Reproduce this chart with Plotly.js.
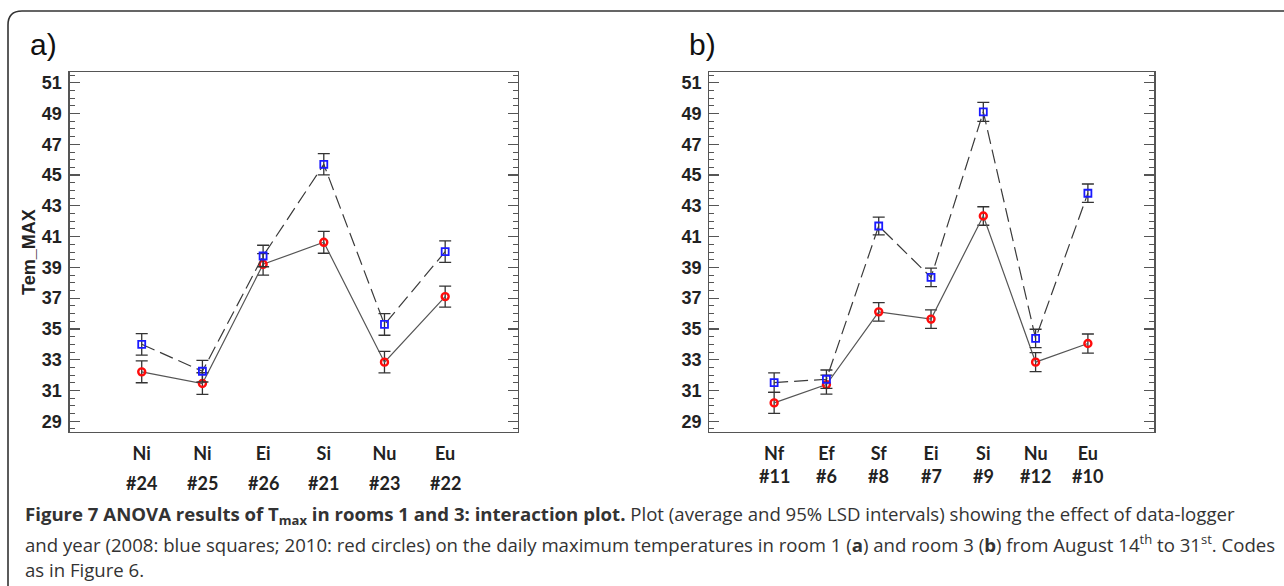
<!DOCTYPE html>
<html>
<head>
<meta charset="utf-8">
<script src="https://cdn.plot.ly/plotly-3.0.1.min.js"></script>
<style>html,body{margin:0;padding:0;background:#fff;}#chart{width:1284px;height:586px;}</style>
</head>
<body>
<div id="chart"></div>
<script>
// ---- data ----
const catsA = ['Ni', 'Ni', 'Ei', 'Si', 'Nu', 'Eu'];
const codesA = ['#24', '#25', '#26', '#21', '#23', '#22'];
const y2008A = [34.0, 32.25, 39.74, 45.7, 35.29, 40.02];
const y2010A = [32.21, 31.45, 39.2, 40.63, 32.84, 37.1];
const err2008A = [0.7, 0.7, 0.7, 0.69, 0.7, 0.7];
const err2010A = [0.71, 0.7, 0.7, 0.71, 0.7, 0.68];

const catsB = ['Nf', 'Ef', 'Sf', 'Ei', 'Si', 'Nu', 'Eu'];
const codesB = ['#11', '#6', '#8', '#7', '#9', '#12', '#10'];
const y2008B = [31.51, 31.73, 41.69, 38.35, 49.11, 34.38, 43.82];
const y2010B = [30.19, 31.38, 36.11, 35.64, 42.34, 32.84, 34.05];
const err2008B = [0.63, 0.6, 0.58, 0.6, 0.62, 0.6, 0.6];
const err2010B = [0.68, 0.62, 0.6, 0.6, 0.6, 0.62, 0.62];

const yTicks = [29, 31, 33, 35, 37, 39, 41, 43, 45, 47, 49, 51];
const yTitle = 'Tem_MAX';

const captionLines = [
  '<b>Figure 7 ANOVA results of T<sub>max</sub> in rooms 1 and 3: interaction plot.</b> Plot (average and 95% LSD intervals) showing the effect of data-logger',
  'and year (2008: blue squares; 2010: red circles) on the daily maximum temperatures in room 1 (<b>a</b>) and room 3 (<b>b</b>) from August 14<sup>th</sup> to 31<sup>st</sup>. Codes',
  'as in Figure 6.'
];

// ---- helpers ----
const W = 1284, H = 586;
const px = x => x / W;
const py = y => 1 - y / H;
const idx = arr => arr.map((_, i) => i);

const blue = '#1a1aff', red = '#ff0d0d';

function series(xa, ya, xs, ys, errs, is2008) {
  return {
    type: 'scatter', mode: 'lines+markers', xaxis: xa, yaxis: ya,
    x: xs, y: ys,
    line: is2008 ? {color: '#3a3a3a', width: 1.2, dash: '14px,6px'} : {color: '#555', width: 1.2},
    marker: is2008
      ? {symbol: 'square-open', size: 7, color: blue, line: {color: blue, width: 1.8}}
      : {symbol: 'circle-open', size: 7, color: red, line: {color: red, width: 2.4}},
    error_y: {type: 'data', array: errs, visible: true, color: '#333', thickness: 1.3, width: 6},
    showlegend: false, hoverinfo: 'skip'
  };
}

const traces = [
  series('x', 'y', idx(catsA), y2010A, err2010A, false),
  series('x', 'y', idx(catsA), y2008A, err2008A, true),
  series('x2', 'y2', idx(catsB), y2010B, err2010B, false),
  series('x2', 'y2', idx(catsB), y2008B, err2008B, true)
];

const yDomain = [py(432), py(72)];

function yAxis(anchor) {
  return {
    domain: yDomain, anchor: anchor, range: [28.3, 51.7],
    tickmode: 'array', tickvals: yTicks, ticktext: yTicks.map(String),
    ticks: 'inside', ticklen: 10, tickwidth: 1.2, tickcolor: '#555',
    minor: {dtick: 0.5, tick0: 29, ticks: 'inside', ticklen: 5, tickwidth: 1, tickcolor: '#555'},
    showline: true, linecolor: '#555', linewidth: 1.2, mirror: 'ticks',
    showgrid: false, zeroline: false, ticklabelstandoff: 3,
    tickfont: {family: 'Liberation Sans, Arial, sans-serif', size: 18, weight: 'bold', color: '#222'},
    automargin: false
  };
}

function xAxis(anchor, domain, range, cats) {
  return {
    domain: domain, anchor: anchor, range: range,
    tickmode: 'array', tickvals: idx(cats), ticktext: cats,
    ticks: '', showline: true, linecolor: '#555', linewidth: 1.2, mirror: true,
    showgrid: false, zeroline: false, ticklabelstandoff: 5,
    tickfont: {family: 'Lato, sans-serif', size: 18, weight: 'bold', color: '#222'},
    automargin: false
  };
}

const annotations = [];
const codeFont = {family: 'Lato, sans-serif', size: 18, weight: 'bold', color: '#222'};
codesA.forEach((c, i) => annotations.push({xref: 'x', yref: 'paper', x: i, y: py(483),
  text: c, showarrow: false, xanchor: 'center', yanchor: 'middle', font: codeFont}));
codesB.forEach((c, i) => annotations.push({xref: 'x2', yref: 'paper', x: i, y: py(476),
  text: c, showarrow: false, xanchor: 'center', yanchor: 'middle', font: codeFont}));

// y-axis title of panel a
annotations.push({xref: 'paper', yref: 'paper', x: px(29), y: py(252), text: yTitle, textangle: -90,
  showarrow: false, xanchor: 'center', yanchor: 'middle',
  font: {family: 'Liberation Sans, Arial, sans-serif', size: 18, weight: 'bold', color: '#222'}});

const panelFont = {family: 'Liberation Sans, Arial, sans-serif', size: 30, color: '#111'};
annotations.push({xref: 'paper', yref: 'paper', x: px(28), y: py(44), text: 'a)', showarrow: false,
  xanchor: 'left', yanchor: 'middle', font: panelFont});
annotations.push({xref: 'paper', yref: 'paper', x: px(687), y: py(44), text: 'b)', showarrow: false,
  xanchor: 'left', yanchor: 'middle', font: panelFont});

const capY = [515, 543, 569];
captionLines.forEach((t, i) => annotations.push({xref: 'paper', yref: 'paper', x: px(23), y: py(capY[i]),
  text: t, showarrow: false, xanchor: 'left', yanchor: 'middle', align: 'left',
  font: {family: 'Open Sans, sans-serif', size: 18.6, color: '#333'}}));

// outer rounded frame
const framePath = `M ${px(8)},${py(640)} L ${px(8)},${py(25)} Q ${px(8)},${py(11)} ${px(22)},${py(11)} L ${px(1320)},${py(11)}`;

const layout = {
  width: W, height: H,
  margin: {l: 0, r: 0, t: 0, b: 0, pad: 0},
  paper_bgcolor: '#fff', plot_bgcolor: '#fff',
  xaxis: xAxis('y', [px(69.5), px(518)], [-1.19, 6.2], catsA),
  yaxis: yAxis('x'),
  xaxis2: xAxis('y2', [px(709.3), px(1154.3)], [-1.24, 7.27], catsB),
  yaxis2: yAxis('x2'),
  annotations: annotations,
  shapes: [{type: 'path', xref: 'paper', yref: 'paper', path: framePath,
    line: {color: '#333', width: 1.6}}]
};

Plotly.newPlot('chart', traces, layout, {displayModeBar: false, staticPlot: true});
</script>
</body>
</html>
